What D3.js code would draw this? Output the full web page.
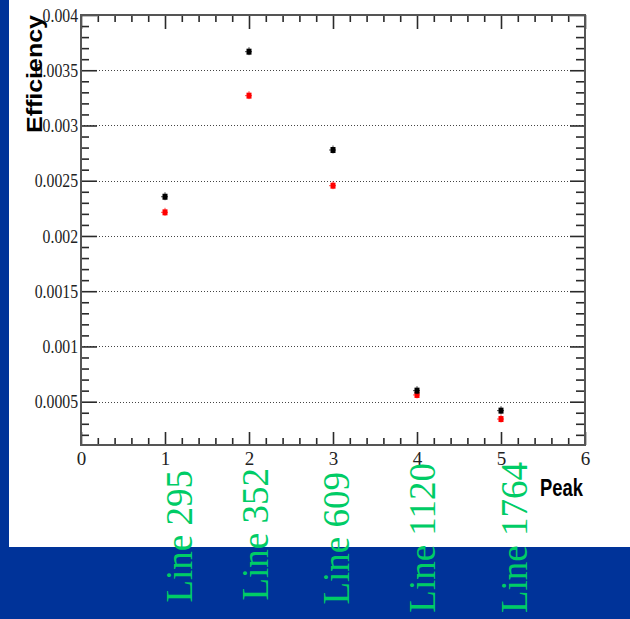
<!DOCTYPE html>
<html>
<head>
<meta charset="utf-8">
<script src="https://cdn.jsdelivr.net/npm/d3@7"></script>
<style>
  html, body { margin: 0; padding: 0; background: #003399; }
  svg { display: block; }
</style>
</head>
<body>
<svg id="chart" width="630" height="619"></svg>
<script>
// Peak efficiencies for two measurement sets
const peaks = [1, 2, 3, 4, 5];
const lineLabels = ["Line 295", "Line 352", "Line 609", "Line 1120", "Line 1764"];
const effBlack = [0.002355, 0.003668, 0.002778, 0.000600, 0.000419];
const effRed = [0.002214, 0.003270, 0.002455, 0.000561, 0.000343];
const yTickValues = [0.0005, 0.001, 0.0015, 0.002, 0.0025, 0.003, 0.0035, 0.004];
const yTickLabels = ["0.0005", "0.001", "0.0015", "0.002", "0.0025", "0.003", "0.0035", "0.004"];
const xTickValues = [0, 1, 2, 3, 4, 5, 6];
const xTickLabels = ["0", "1", "2", "3", "4", "5", "6"];

// Layout of the hand-placed line annotations (baseline offset from tick, top edge)
const annotDx = [27, 19, 16, 18, 26];
const annotTop = [470, 468, 472, 463, 462];

const svg = d3.select("#chart");
const frame = { left: 81, right: 585, top: 15, bottom: 445 };

// white panel on the blue slide
svg.append("rect").attr("x", 9).attr("y", 0).attr("width", 621).attr("height", 547).attr("fill", "#ffffff");

const x = d3.scaleLinear().domain([0, 6]).range([frame.left, frame.right]);
const y = d3.scaleLinear().domain([0.000108, 0.004]).range([frame.bottom, frame.top]);

const yMinor = d3.range(2, 40).map(i => i * 0.0001).filter(v => Math.abs(v / 0.0005 - Math.round(v / 0.0005)) > 1e-6);
const xMinor = d3.range(0, 31).map(i => i * 0.2).filter(v => Math.abs(v - Math.round(v)) > 1e-6);

// dotted horizontal grid
svg.append("g").selectAll("line").data(yTickValues.slice(0, -1)).join("line")
  .attr("x1", frame.left).attr("x2", frame.right)
  .attr("y1", d => Math.round(y(d)) + 0.5).attr("y2", d => Math.round(y(d)) + 0.5)
  .attr("stroke", "#444").attr("stroke-width", 1).attr("stroke-dasharray", "1,2");

const tickStroke = "#2a2a2a";
function styleAxis(g) {
  g.select(".domain").remove();
  g.selectAll(".tick line").attr("stroke", tickStroke).attr("stroke-width", 1.6);
}

// left axis: major ticks with labels
const gLeft = svg.append("g").attr("transform", `translate(${frame.left},0)`)
  .call(d3.axisLeft(y).tickValues(yTickValues).tickSize(-16).tickPadding(3)
    .tickFormat((d, i) => yTickLabels[i]));
styleAxis(gLeft);
gLeft.selectAll(".tick text")
  .attr("x", null)
  .attr("transform", "translate(-3,0) scale(0.83,1)")
  .attr("font-family", "'Liberation Serif', 'Times New Roman', serif")
  .attr("font-size", 19).attr("fill", "#222");
svg.append("g").attr("transform", `translate(${frame.left},0)`)
  .call(d3.axisLeft(y).tickValues(yMinor).tickSize(-8).tickFormat(""))
  .call(styleAxis);

// right axis
svg.append("g").attr("transform", `translate(${frame.right},0)`)
  .call(d3.axisRight(y).tickValues(yTickValues).tickSize(-15).tickFormat(""))
  .call(styleAxis);
svg.append("g").attr("transform", `translate(${frame.right},0)`)
  .call(d3.axisRight(y).tickValues(yMinor).tickSize(-9).tickFormat(""))
  .call(styleAxis);

// bottom axis with labels
const gBottom = svg.append("g").attr("transform", `translate(0,${frame.bottom})`)
  .call(d3.axisBottom(x).tickValues(xTickValues).tickSize(-13).tickPadding(7)
    .tickFormat((d, i) => xTickLabels[i]));
styleAxis(gBottom);
gBottom.selectAll(".tick text")
  .attr("font-family", "'Liberation Serif', 'Times New Roman', serif")
  .attr("font-size", 19).attr("fill", "#222");
svg.append("g").attr("transform", `translate(0,${frame.bottom})`)
  .call(d3.axisBottom(x).tickValues(xMinor).tickSize(-7).tickFormat(""))
  .call(styleAxis);

// top axis
svg.append("g").attr("transform", `translate(0,${frame.top})`)
  .call(d3.axisTop(x).tickValues(xTickValues).tickSize(-14).tickFormat(""))
  .call(styleAxis);
svg.append("g").attr("transform", `translate(0,${frame.top})`)
  .call(d3.axisTop(x).tickValues(xMinor).tickSize(-7).tickFormat(""))
  .call(styleAxis);

// frame
svg.append("rect")
  .attr("x", frame.left).attr("y", frame.top)
  .attr("width", frame.right - frame.left).attr("height", frame.bottom - frame.top)
  .attr("fill", "none").attr("stroke", "#555").attr("stroke-width", 2);

// data markers with small error crosses
function drawSeries(values, color) {
  const g = svg.append("g");
  const pts = peaks.map((p, i) => ({ p, v: values[i] }));
  g.selectAll("line.h").data(pts).join("line").attr("class", "h")
    .attr("x1", d => x(d.p) - 4).attr("x2", d => x(d.p) + 3)
    .attr("y1", d => y(d.v)).attr("y2", d => y(d.v))
    .attr("stroke", color).attr("stroke-width", 1).attr("opacity", 0.7);
  g.selectAll("line.v").data(pts).join("line").attr("class", "v")
    .attr("x1", d => x(d.p)).attr("x2", d => x(d.p))
    .attr("y1", d => y(d.v) - 4.5).attr("y2", d => y(d.v) + 3.5)
    .attr("stroke", color).attr("stroke-width", 1).attr("opacity", 0.7);
  g.selectAll("rect").data(pts).join("rect")
    .attr("x", d => x(d.p) - 2.5).attr("y", d => y(d.v) - 3)
    .attr("width", 5).attr("height", 6)
    .attr("fill", color);
}
drawSeries(effRed, "#ff0000");
drawSeries(effBlack, "#000000");

// axis titles
svg.append("text")
  .attr("transform", `translate(41.5,${frame.top}) rotate(-90)`)
  .attr("text-anchor", "end")
  .attr("font-family", "'Liberation Sans', Arial, sans-serif")
  .attr("font-weight", "bold").attr("font-size", 22)
  .attr("textLength", 118).attr("lengthAdjust", "spacingAndGlyphs")
  .attr("fill", "#000")
  .text("Efficiency");

svg.append("text")
  .attr("x", 540).attr("y", 496)
  .attr("font-family", "'Liberation Sans', Arial, sans-serif")
  .attr("font-weight", "bold").attr("font-size", 24)
  .attr("textLength", 43).attr("lengthAdjust", "spacingAndGlyphs")
  .attr("fill", "#000")
  .text("Peak");

// blue band along the bottom of the slide is the body background; green line names on top
svg.append("g").selectAll("text").data(peaks).join("text")
  .attr("transform", (d, i) => `translate(${x(d) + annotDx[i]},${annotTop[i]}) rotate(-90)`)
  .attr("text-anchor", "end")
  .attr("font-family", "'Liberation Serif', 'Times New Roman', serif")
  .attr("font-size", 37)
  .attr("fill", "#00cc66")
  .text((d, i) => lineLabels[i]);
</script>
</body>
</html>
